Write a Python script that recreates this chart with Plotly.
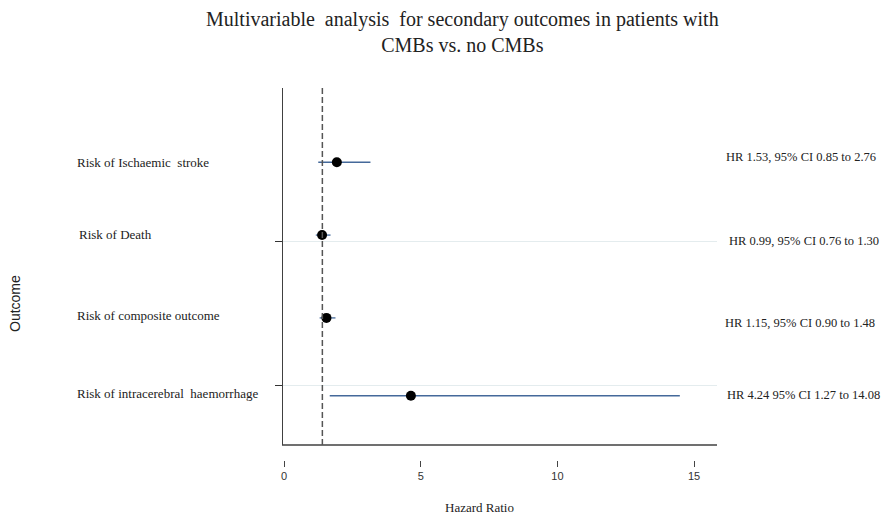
import plotly.graph_objects as go

# ---- data ----
outcomes = [
    "Risk of Ischaemic  stroke",
    "Risk of Death",
    "Risk of composite outcome",
    "Risk of intracerebral  haemorrhage",
]
hr = [1.53, 0.99, 1.15, 4.24]
ci_low = [0.85, 0.76, 0.90, 1.27]
ci_high = [2.76, 1.30, 1.48, 14.08]
hr_text = [
    "HR 1.53, 95% CI 0.85 to 2.76",
    "HR 0.99, 95% CI 0.76 to 1.30",
    "HR 1.15, 95% CI 0.90 to 1.48",
    "HR 4.24 95% CI 1.27 to 14.08",
]
row_pos = [3.96, 2.94, 1.78, 0.69]
y_tick_pos = [2.85, 0.83]
x_ticks = [0, 5, 10, 15]
ref_hr = 1.0

# the printed axis in the source is offset: its "0" tick sits at HR -0.4
AXIS_SHIFT = 0.4

SERIF = "Liberation Serif, Times New Roman, serif"
NARROW = "Liberation Sans Narrow, Arial Narrow, Liberation Sans, sans-serif"

PL, PR, PT, PB = 283, 176, 88, 55
W, H = 893, 515
plot_w = W - PL - PR
plot_h = H - PT - PB


def px_x(p):
    return (p - PL) / plot_w


def px_y(p):
    return (H - PB - p) / plot_h


fig = go.Figure()
fig.add_trace(go.Scatter(
    x=hr, y=row_pos, mode="markers",
    marker=dict(size=10, color="black"),
    error_x=dict(type="data", symmetric=False,
                 array=[h - v for h, v in zip(ci_high, hr)],
                 arrayminus=[v - l for v, l in zip(hr, ci_low)],
                 width=0, thickness=1.3, color="#44699a"),
    showlegend=False, hoverinfo="skip",
))

fig.update_layout(
    template="none",
    width=W, height=H,
    margin=dict(l=PL, r=PR, t=PT, b=PB),
    paper_bgcolor="white", plot_bgcolor="white",
    font=dict(family=SERIF, color="#222"),
    xaxis=dict(range=[-0.44, 15.44], anchor="free", position=0,
               showline=False, showgrid=False, zeroline=False,
               ticks="outside", ticklen=6, tickcolor="#444", tickwidth=1,
               tickvals=[t - AXIS_SHIFT for t in x_ticks],
               ticktext=[str(t) for t in x_ticks],
               tickfont=dict(family=NARROW, size=11, color="#333")),
    yaxis=dict(range=[0, 5], domain=[15 / plot_h, 1],
               showline=True, linecolor="#404040", linewidth=1.3,
               ticks="outside", ticklen=7, tickcolor="#333", tickwidth=1,
               tickvals=y_tick_pos, showticklabels=False,
               showgrid=True, gridcolor="#e4ecee", gridwidth=1,
               zeroline=False),
)

# bottom axis line and reference dashed line
fig.add_shape(type="line", xref="paper", yref="y domain",
              x0=px_x(282), x1=1, y0=0, y1=0,
              line=dict(color="#404040", width=1.3))
fig.add_shape(type="line", xref="x", yref="y domain",
              x0=ref_hr, x1=ref_hr, y0=0, y1=1,
              line=dict(color="#555", width=1.5, dash="6px,3px"))

# left labels
left_xshift = [-2, 0, -2, -2]
left_yshift = [0, 1, 2, 2]
for name, y, xs, ys in zip(outcomes, row_pos, left_xshift, left_yshift):
    fig.add_annotation(text=name, xref="paper", yref="y", x=px_x(77), y=y,
                       xanchor="left", yanchor="middle", showarrow=False,
                       xshift=xs, yshift=ys,
                       font=dict(family=SERIF, size=13, color="#222"))

# right labels
right_xshift = [-2, 1, -3, -1]
right_yshift = [5, -6, -5, 1]
for t, y, xs, ys in zip(hr_text, row_pos, right_xshift, right_yshift):
    fig.add_annotation(text=t, xref="paper", yref="y", x=px_x(726), y=y,
                       xanchor="left", yanchor="middle", showarrow=False,
                       xshift=xs, yshift=ys,
                       font=dict(family=SERIF, size=12.5, color="#222"))

# title
fig.add_annotation(
    text="Multivariable  analysis  for secondary outcomes in patients with<br>CMBs vs. no CMBs",
    xref="paper", yref="paper", x=px_x(462), y=px_y(6),
    xanchor="center", yanchor="top", showarrow=False, align="center",
    font=dict(family=SERIF, size=20, color="#222"))

# axis titles
fig.add_annotation(text="Hazard Ratio", xref="paper", yref="paper",
                   x=px_x(479), y=px_y(508), xanchor="center", yanchor="middle",
                   showarrow=False, font=dict(family=SERIF, size=13, color="#222"))
fig.add_annotation(text="Outcome", xref="paper", yref="paper",
                   x=px_x(15), y=px_y(304), xanchor="center", yanchor="middle",
                   textangle=-90, showarrow=False,
                   font=dict(family=NARROW, size=14, color="#222"))

fig.write_html("out.html")
